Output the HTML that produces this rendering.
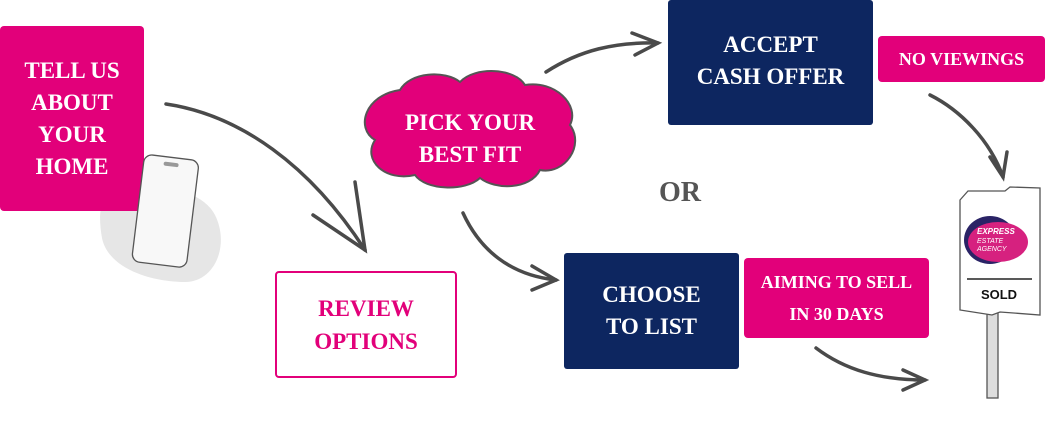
<!DOCTYPE html>
<html><head><style>
body{margin:0;width:1045px;height:424px;background:#fff;position:relative;overflow:hidden;font-family:"Liberation Serif",serif;font-weight:bold}
.b{position:absolute;display:flex;align-items:center;justify-content:center;text-align:center;color:#fff;box-sizing:border-box}
.pk{background:#e2007a;border-radius:4px}
.nv{background:#0d2660;border-radius:3px}
</style></head><body>
<svg width="1045" height="424" style="position:absolute;left:0;top:0">
<path d="M110 195 C135 178 200 185 215 215 C230 245 215 282 185 282 C150 282 108 268 102 238 C98 215 100 200 110 195Z" fill="#e6e6e6"/>
<g fill="none" stroke="#4a4a4a" stroke-width="3.5" stroke-linecap="round">
<path d="M166 104 C240 115 310 165 365 250"/>
<path d="M313 215 L365 250 L355 182"/>
<path d="M546 72 C580 50 615 42 658 43"/>
<path d="M632 33 L658 43 L635 55"/>
<path d="M930 95 C960 110 990 140 1003 177"/>
<path d="M990 157 L1003 177 L1007 152"/>
<path d="M463 213 C480 250 510 275 556 280"/>
<path d="M532 266 L556 280 L532 290"/>
<path d="M816 348 C845 370 880 380 925 380"/>
<path d="M903 370 L925 380 L903 390"/>
</g>
<path d="M400 90 C410 72 445 70 460 82 C475 66 515 68 525 85 C555 80 580 105 570 125 C585 145 565 175 540 170 C530 190 495 190 480 178 C465 192 425 190 415 175 C385 182 362 160 375 140 C355 128 365 95 400 90Z" fill="#e2007a" stroke="#555" stroke-width="2"/>
<rect x="987" y="310" width="11" height="88" fill="#ddd" stroke="#555" stroke-width="1.3"/>
<path d="M960 200 L968 191 L1005 191 L1010 187 L1040 188 L1040 315 L1000 312 L992 315 L960 310Z" fill="#fff" stroke="#555" stroke-width="1.3"/>
<ellipse cx="990" cy="240" rx="26" ry="24" fill="#2a2366"/>
<ellipse cx="998" cy="242" rx="30" ry="20" fill="#d6217f"/>
<text x="977" y="234" font-family="Liberation Sans" font-size="8" font-style="italic" fill="#fff" font-weight="bold">EXPRESS</text>
<text x="977" y="243" font-family="Liberation Sans" font-size="7" font-style="italic" fill="#fff" font-weight="normal">ESTATE</text>
<text x="977" y="251" font-family="Liberation Sans" font-size="7" font-style="italic" fill="#fff" font-weight="normal">AGENCY</text>
<line x1="967" y1="279" x2="1032" y2="279" stroke="#222" stroke-width="1.5"/>
<text x="999" y="299" text-anchor="middle" font-family="Liberation Sans" font-size="13" fill="#111" font-weight="bold">SOLD</text>
</svg>
<div class="b pk" style="left:0;top:26px;width:144px;height:185px;font-size:23px;line-height:32px">TELL US<br>ABOUT<br>YOUR<br>HOME</div>
<svg width="1045" height="424" style="position:absolute;left:0;top:0">
<g transform="rotate(7 165 210)">
<rect x="138" y="157" width="55" height="108" rx="8" fill="#f8f8f8" stroke="#555" stroke-width="1.3"/>
<rect x="158" y="162" width="15" height="4" rx="2" fill="#999"/>
</g>
</svg>
<div class="b" style="left:275px;top:271px;width:182px;height:107px;border:2px solid #e2007a;border-radius:4px;color:#e2007a;font-size:23px;line-height:33px">REVIEW<br>OPTIONS</div>
<div class="b" style="left:390px;top:106px;width:160px;height:66px;font-size:23px;line-height:32px">PICK YOUR<br>BEST FIT</div>
<div class="b nv" style="left:668px;top:0;width:205px;height:125px;font-size:23px;line-height:32px;padding-bottom:4px">ACCEPT<br>CASH OFFER</div>
<div class="b pk" style="left:878px;top:36px;width:167px;height:46px;font-size:18px">NO VIEWINGS</div>
<div class="b" style="left:630px;top:175px;width:100px;height:36px;color:#555;font-size:28px">OR</div>
<div class="b nv" style="left:564px;top:253px;width:175px;height:116px;font-size:23px;line-height:32px">CHOOSE<br>TO LIST</div>
<div class="b pk" style="left:744px;top:258px;width:185px;height:80px;font-size:18px;line-height:32px">AIMING TO SELL<br>IN 30 DAYS</div>
</body></html>
